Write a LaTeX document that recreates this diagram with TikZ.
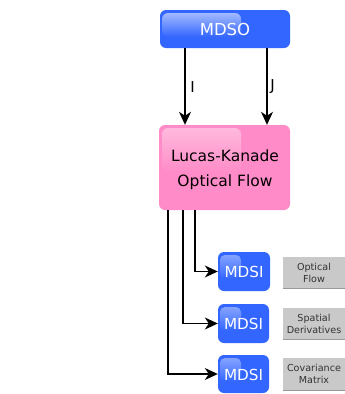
\documentclass[tikz,border=0pt]{standalone}
\usepackage{fontspec}
\setmainfont{DejaVu Sans}
\usetikzlibrary{arrows.meta,fadings,calc}
\definecolor{boxblue}{HTML}{3366FF}
\definecolor{boxpink}{HTML}{FF8CC8}
\definecolor{labgray}{HTML}{C9C9C9}
\definecolor{labedge}{HTML}{999999}
\definecolor{labtext}{HTML}{333333}
\tikzset{
  bluebox/.style={fill=boxblue, draw=none, rounded corners=6pt, inner sep=0pt},
  pinkbox/.style={fill=boxpink, draw=none, rounded corners=6pt, inner sep=0pt},
  labbox/.style={fill=labgray, draw=none, inner sep=0pt, align=center,
    text=labtext, minimum width=62pt, minimum height=31pt,
    font=\fontsize{9.6}{12}\selectfont},
  gloss/.style={fill=white, rounded corners=6pt, path fading=south, fill opacity=0.55},
  conn/.style={line width=1.2pt, draw=black, -{Stealth[length=13pt,width=12pt,inset=4pt]}},
  edgelab/.style={font=\fontsize{15}{17}\selectfont, text=black, inner sep=0pt},
  whitetext/.style={text=white, inner sep=0pt}
}
\begin{document}
\begin{tikzpicture}[x=1pt,y=-1pt]
\useasboundingbox[fill=white] (0,0) rectangle (345,394);

% main boxes
\node[bluebox, minimum width=130pt, minimum height=38pt] (mdso) at (225,29) {};
\fill[gloss] (162,13) rectangle (241,37);
\node[whitetext, font=\fontsize{16.5}{18}\selectfont] (mdsotext) at (225,29.5) {MDSO};

\node[pinkbox, minimum width=131pt, minimum height=85pt] (lk) at (224.5,167.5) {};
\fill[gloss, fill opacity=0.4] (162,128) rectangle (241,172);
\node[align=center, font=\fontsize{15.5}{25}\selectfont, inner sep=0pt] (lktext) at (225,170) {Lucas-Kanade\\Optical Flow};

% MDSI boxes
\node[bluebox, minimum width=52pt, minimum height=39pt] (mdsi1) at (244,271.5) {};
\node[bluebox, minimum width=51pt, minimum height=39pt] (mdsi2) at (243.5,323.5) {};
\node[bluebox, minimum width=51pt, minimum height=38pt] (mdsi3) at (243.5,374) {};
\foreach \y in {255,307,358}{
  \fill[gloss, rounded corners=5pt, fill opacity=0.4] (220,\y) rectangle (241,\y+24);
}
\foreach \n in {1,2,3}{
  \node[whitetext, font=\fontsize{15.2}{17}\selectfont] (mdsitext\n) at ($(mdsi\n)+(0,0.5)$) {MDSI};
}

% label boxes
\node[labbox] (lab1) at (314,272.5) {Optical\\Flow};
\node[labbox] (lab2) at (314,323.5) {Spatial\\Derivatives};
\node[labbox, minimum height=32pt] (lab3) at (314,374) {Covariance\\Matrix};
\foreach \n in {1,2,3}{
  \draw[labedge, line width=1.2pt] (lab\n.south west) -- (lab\n.south east);
}

% connector x positions
\coordinate (xI) at (185,0);
\coordinate (xJ) at (267,0);
\coordinate (xa) at (195,0);
\coordinate (xb) at (183,0);
\coordinate (xc) at (168,0);

\draw[conn] (mdso.south -| xI) -- (lk.north -| xI);
\draw[conn] (mdso.south -| xJ) -- (lk.north -| xJ);
\node[edgelab] (labI) at (192.5,87) {I};
\node[edgelab] (labJ) at (272.5,87) {J};

\draw[conn] (lk.south -| xa) |- (mdsi1.west);
\draw[conn] (lk.south -| xb) |- (mdsi2.west);
\draw[conn] (lk.south -| xc) |- (mdsi3.west);
\end{tikzpicture}
\end{document}
